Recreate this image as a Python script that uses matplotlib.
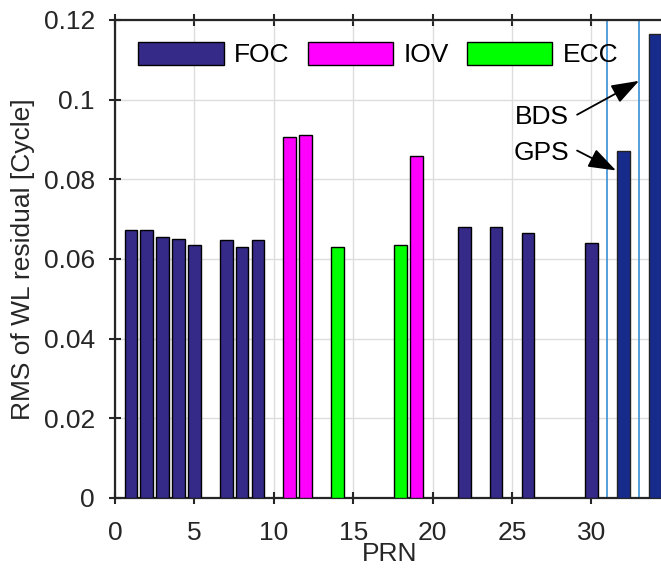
import matplotlib
matplotlib.use("Agg")
import matplotlib.pyplot as plt
from matplotlib.patches import Patch

plt.rcParams['font.family'] = ['Liberation Sans', 'DejaVu Sans']

foc_prn = [1, 2, 3, 4, 5, 7, 8, 9, 22, 24, 26, 30]
foc_rms = [0.0673, 0.0673, 0.0656, 0.0651, 0.0634, 0.0648, 0.0630, 0.0647, 0.0679, 0.0680, 0.0664, 0.0641]
iov_prn = [11, 12, 19]
iov_rms = [0.0906, 0.0910, 0.0858]
ecc_prn = [14, 18]
ecc_rms = [0.0629, 0.0635]
sys_prn = [32, 34]
sys_rms = [0.0871, 0.1164]
sys_labels = ['GPS', 'BDS']
sep_lines = [31, 33]

foc_color = '#352a87'
iov_color = '#ff00ff'
ecc_color = '#00ff00'
sys_color = '#172b8c'
FS = 19

fig = plt.figure(figsize=(6.61, 5.69), dpi=100)
ax = fig.add_axes([0.174, 0.125, 0.83, 0.840])

w = 0.8
ax.bar(foc_prn, foc_rms, width=w, color=foc_color, edgecolor='black', linewidth=1.0, zorder=3)
ax.bar(iov_prn, iov_rms, width=w, color=iov_color, edgecolor='black', linewidth=1.0, zorder=3)
ax.bar(ecc_prn, ecc_rms, width=w, color=ecc_color, edgecolor='black', linewidth=1.0, zorder=3)
ax.bar(sys_prn, sys_rms, width=w, color=sys_color, edgecolor='#222222', linewidth=1.0, zorder=3)

for xv in sep_lines:
    ax.axvline(xv, color='#3a8fd6', linewidth=1.2, zorder=2)

ax.set_xlim(0, 34.55)
ax.set_ylim(0, 0.12)
ax.set_xticks([0, 5, 10, 15, 20, 25, 30])
ax.set_yticks([0, 0.02, 0.04, 0.06, 0.08, 0.1, 0.12])
ax.set_yticklabels(['0', '0.02', '0.04', '0.06', '0.08', '0.1', '0.12'])
ax.grid(True, color='#dddddd', linewidth=1.0, zorder=0)
ax.set_axisbelow(True)
ax.tick_params(axis='both', direction='inout', length=9, width=1.5, labelsize=FS,
               colors='#262626', top=True, right=False)
ax.tick_params(axis='y', pad=10)
ax.tick_params(axis='x', pad=12)
for s in ['left', 'top', 'bottom']:
    ax.spines[s].set_linewidth(1.6)
    ax.spines[s].set_color('#262626')
ax.spines['right'].set_visible(False)

ax.set_xlabel('PRN', fontsize=FS, color='#262626', labelpad=-2)
ax.set_ylabel('RMS of WL residual [Cycle]', fontsize=FS, color='#262626', labelpad=6)

# annotations
astyle = '-|>,head_length=1.7,head_width=0.6'
ax.annotate('', xy=(33.0, 0.1047), xytext=(29.1, 0.0962),
            arrowprops=dict(arrowstyle=astyle, color='black', lw=1.3, shrinkA=0, shrinkB=0))
ax.annotate('', xy=(31.55, 0.0822), xytext=(29.1, 0.0872),
            arrowprops=dict(arrowstyle=astyle, color='black', lw=1.3, shrinkA=0, shrinkB=0))
ax.text(28.6, 0.0955, sys_labels[1], fontsize=FS, ha='right', va='center')
ax.text(28.6, 0.0865, sys_labels[0], fontsize=FS, ha='right', va='center')

handles = [Patch(facecolor=foc_color, edgecolor='black', label='FOC'),
           Patch(facecolor=iov_color, edgecolor='black', label='IOV'),
           Patch(facecolor=ecc_color, edgecolor='black', label='ECC')]
ax.legend(handles=handles, loc='upper left', ncol=3, frameon=False, fontsize=FS,
          handlelength=3.25, handleheight=1.0, handletextpad=0.38, columnspacing=0.68,
          bbox_to_anchor=(0.003, 1.0), borderaxespad=0.42)

fig.savefig('out.png', dpi=100)
